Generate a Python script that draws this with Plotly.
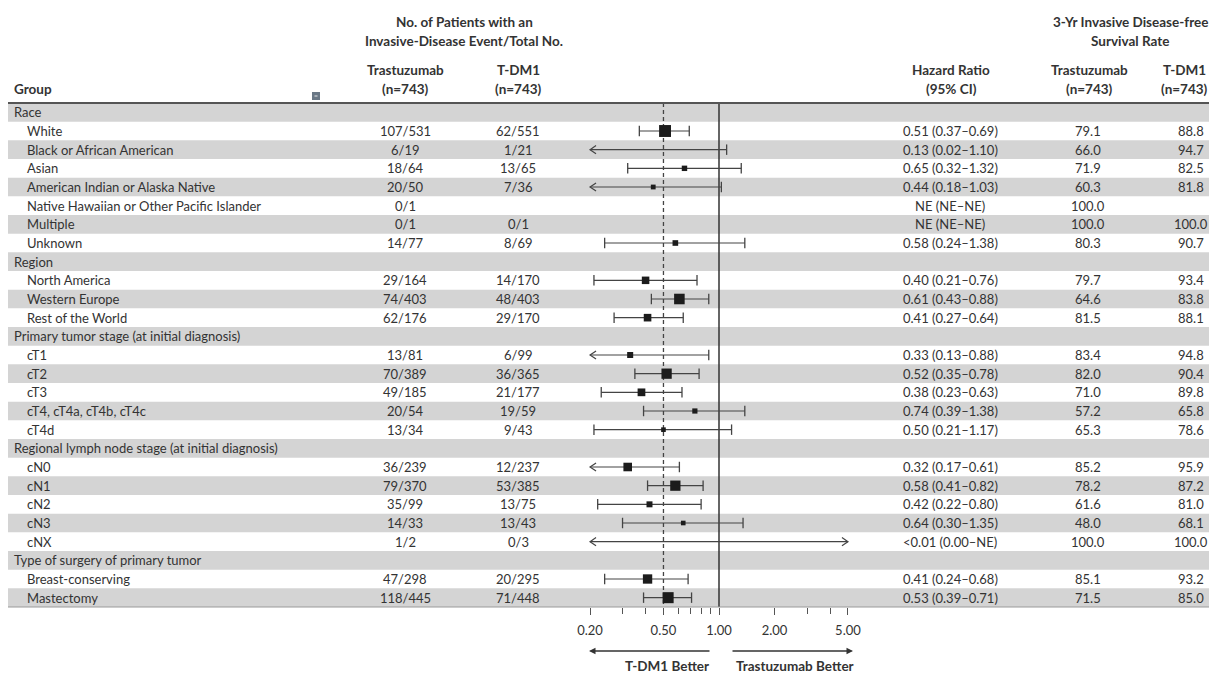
import math
import plotly.graph_objects as go

# ---------------- data ----------------
groups = ["Race", "White", "Black or African American", "Asian",
          "American Indian or Alaska Native", "Native Hawaiian or Other Pacific Islander",
          "Multiple", "Unknown",
          "Region", "North America", "Western Europe", "Rest of the World",
          "Primary tumor stage (at initial diagnosis)", "cT1", "cT2", "cT3",
          "cT4, cT4a, cT4b, cT4c", "cT4d",
          "Regional lymph node stage (at initial diagnosis)", "cN0", "cN1", "cN2", "cN3", "cNX",
          "Type of surgery of primary tumor", "Breast-conserving", "Mastectomy"]
is_header = [True, False, False, False, False, False, False, False,
             True, False, False, False,
             True, False, False, False, False, False,
             True, False, False, False, False, False,
             True, False, False]
trast_events = [None, 107, 6, 18, 20, 0, 0, 14, None, 29, 74, 62, None, 13, 70, 49, 20, 13,
                None, 36, 79, 35, 14, 1, None, 47, 118]
trast_total = [None, 531, 19, 64, 50, 1, 1, 77, None, 164, 403, 176, None, 81, 389, 185, 54, 34,
               None, 239, 370, 99, 33, 2, None, 298, 445]
tdm1_events = [None, 62, 1, 13, 7, None, 0, 8, None, 14, 48, 29, None, 6, 36, 21, 19, 9,
               None, 12, 53, 13, 13, 0, None, 20, 71]
tdm1_total = [None, 551, 21, 65, 36, None, 1, 69, None, 170, 403, 170, None, 99, 365, 177, 59, 43,
              None, 237, 385, 75, 43, 3, None, 295, 448]
hr = [None, 0.51, 0.13, 0.65, 0.44, None, None, 0.58, None, 0.40, 0.61, 0.41, None,
      0.33, 0.52, 0.38, 0.74, 0.50, None, 0.32, 0.58, 0.42, 0.64, 0.0, None, 0.41, 0.53]
ci_low = [None, 0.37, 0.02, 0.32, 0.18, None, None, 0.24, None, 0.21, 0.43, 0.27, None,
          0.13, 0.35, 0.23, 0.39, 0.21, None, 0.17, 0.41, 0.22, 0.30, 0.0, None, 0.24, 0.39]
ci_high = [None, 0.69, 1.10, 1.32, 1.03, None, None, 1.38, None, 0.76, 0.88, 0.64, None,
           0.88, 0.78, 0.63, 1.38, 1.17, None, 0.61, 0.82, 0.80, 1.35, math.inf, None, 0.68, 0.71]
rate_trast = [None, 79.1, 66.0, 71.9, 60.3, 100.0, 100.0, 80.3, None, 79.7, 64.6, 81.5, None,
              83.4, 82.0, 71.0, 57.2, 65.3, None, 85.2, 78.2, 61.6, 48.0, 100.0, None, 85.1, 71.5]
rate_tdm1 = [None, 88.8, 94.7, 82.5, 81.8, None, 100.0, 90.7, None, 93.4, 83.8, 88.1, None,
             94.8, 90.4, 89.8, 65.8, 78.6, None, 95.9, 87.2, 81.0, 68.1, 100.0, None, 93.2, 85.0]
overall_hr = 0.50
tick_values = [0.2, 0.5, 1.0, 2.0, 5.0]
tick_labels = ["0.20", "0.50", "1.00", "2.00", "5.00"]
minor_ticks = [0.3, 0.4, 0.6, 0.7, 0.8, 0.9, 3.0, 4.0]
clip_lo, clip_hi = 0.2, 5.0

# ---------------- layout geometry ----------------
OFF = 8                      # default page body margin
W, H = 1217 - OFF, 675 - OFF
FONT = "Lato"
TXT = "#333333"
TOP_PX, BOT_PX = 103, 607
n = len(groups)


def px(x):
    return (x - OFF) / W


def py(y):
    return 1 - (y - OFF) / H


PX_PER_DEC = 184.5
x_left = -(719 - 560) / PX_PER_DEC
x_right = x_left + (880 - 560) / PX_PER_DEC

fig = go.Figure()
shapes = []
annotations = []

# row bands
for i in range(n):
    if i % 2 == 0:
        shapes.append(dict(type="rect", xref="paper", yref="y", x0=px(8), x1=1,
                           y0=i - 0.5, y1=i + 0.5, fillcolor="#d4d4d4",
                           line=dict(width=0), layer="below"))
# top/bottom rules
shapes.append(dict(type="line", xref="paper", yref="paper", x0=px(8), x1=1,
                   y0=py(TOP_PX), y1=py(TOP_PX), line=dict(color="#555555", width=2)))
shapes.append(dict(type="line", xref="paper", yref="paper", x0=px(8), x1=1,
                   y0=py(BOT_PX), y1=py(BOT_PX), line=dict(color="#9a9a9a", width=1)))
# small collapse icon
shapes.append(dict(type="rect", xref="paper", yref="paper", x0=px(312), x1=px(320),
                   y0=py(100), y1=py(92), fillcolor="#6a7886", line=dict(width=0)))
shapes.append(dict(type="line", xref="paper", yref="paper", x0=px(314.5), x1=px(317.5),
                   y0=py(96), y1=py(96), line=dict(color="#e8e8e8", width=1)))

# reference lines
fig.add_trace(go.Scatter(x=[1.0, 1.0], y=[-0.5, n - 0.5], mode="lines",
                         line=dict(color="#333333", width=1.5), hoverinfo="skip"))
fig.add_trace(go.Scatter(x=[overall_hr, overall_hr], y=[-0.5, n - 0.5], mode="lines",
                         line=dict(color="#444444", width=1.3, dash="4px,3px"), hoverinfo="skip"))

# CI lines, caps, arrows
seg_x, seg_y, cap_x, cap_y, chev_x, chev_y = [], [], [], [], [], []
cap_h = 0.28
chev_d = 6 / PX_PER_DEC
chev_h = 0.22
for i in range(n):
    if hr[i] is None:
        continue
    lo, hi = ci_low[i], ci_high[i]
    a = max(lo, clip_lo)
    b = min(hi, clip_hi)
    seg_x += [a, b, None]
    seg_y += [i, i, None]
    if lo >= clip_lo:
        cap_x += [lo, lo, None]
        cap_y += [i - cap_h, i + cap_h, None]
    else:
        xo = clip_lo * 10 ** chev_d
        chev_x += [xo, clip_lo, xo, None]
        chev_y += [i - chev_h, i, i + chev_h, None]
    if hi <= clip_hi:
        cap_x += [hi, hi, None]
        cap_y += [i - cap_h, i + cap_h, None]
    else:
        xo = clip_hi / 10 ** chev_d
        chev_x += [xo, clip_hi, xo, None]
        chev_y += [i - chev_h, i, i + chev_h, None]

LC = "#444444"
fig.add_trace(go.Scatter(x=seg_x, y=seg_y, mode="lines", line=dict(color=LC, width=1.2),
                         hoverinfo="skip"))
fig.add_trace(go.Scatter(x=cap_x, y=cap_y, mode="lines", line=dict(color=LC, width=1.3),
                         hoverinfo="skip"))
fig.add_trace(go.Scatter(x=chev_x, y=chev_y, mode="lines", line=dict(color=LC, width=1.2),
                         hoverinfo="skip"))

# point estimates (size scaled by number of patients)
mx, my, ms = [], [], []
for i in range(n):
    if hr[i] is None or not (clip_lo <= hr[i] <= clip_hi):
        continue
    tot = (trast_total[i] or 0) + (tdm1_total[i] or 0)
    mx.append(hr[i])
    my.append(i)
    ms.append(2 + 10 * math.sqrt(tot / 1100))
fig.add_trace(go.Scatter(x=mx, y=my, mode="markers",
                         marker=dict(symbol="square", size=ms, color="#1c1c1c", opacity=1,
                                     line=dict(width=0)),
                         hoverinfo="skip"))


def hr_str(i):
    if hr[i] is None:
        return "NE (NE–NE)"
    h = "<0.01" if hr[i] < 0.01 else f"{hr[i]:.2f}"
    lo = f"{ci_low[i]:.2f}"
    hi = "NE" if math.isinf(ci_high[i]) else f"{ci_high[i]:.2f}"
    return f"{h} ({lo}–{hi})"


def txt(x, y, s, xanchor="center", bold=False, size=13, yref="y"):
    annotations.append(dict(x=x, y=y, xref="paper", yref=yref, text=(f"<b>{s}</b>" if bold else s),
                            showarrow=False, xanchor=xanchor, yanchor="middle",
                            font=dict(family=FONT, size=size, color=TXT)))


# row text
for i in range(n):
    txt(px(12 if is_header[i] else 25), i, groups[i], xanchor="left")
    if trast_total[i] is not None:
        txt(px(405), i, f"{trast_events[i]}/{trast_total[i]}")
    if tdm1_total[i] is not None:
        txt(px(518), i, f"{tdm1_events[i]}/{tdm1_total[i]}")
    if not is_header[i]:
        txt(px(950), i, hr_str(i).replace("<", "&lt;"))
    if rate_trast[i] is not None:
        txt(px(1088), i, f"{rate_trast[i]:.1f}")
    if rate_tdm1[i] is not None:
        txt(px(1191), i, f"{rate_tdm1[i]:.1f}")

# headers
HS = 13.5
txt(px(464), py(22), "No. of Patients with an", bold=True, size=HS, yref="paper")
txt(px(464), py(41), "Invasive-Disease Event/Total No.", bold=True, size=HS, yref="paper")
txt(px(1130), py(22), "3-Yr Invasive Disease-free", bold=True, size=HS, yref="paper")
txt(px(1130), py(41), "Survival Rate", bold=True, size=HS, yref="paper")
for xc, l1, l2 in [(405, "Trastuzumab", "(n=743)"), (518, "T-DM1", "(n=743)"),
                   (951, "Hazard Ratio", "(95% CI)"), (1089, "Trastuzumab", "(n=743)"),
                   (1184, "T-DM1", "(n=743)")]:
    txt(px(xc), py(70), l1, bold=True, size=HS, yref="paper")
    txt(px(xc), py(89), l2, bold=True, size=HS, yref="paper")
txt(px(12), py(89), "Group", xanchor="left", bold=True, size=HS, yref="paper")

# favour arrows
annotations.append(dict(x=px(589), y=py(651), ax=122, ay=0, xref="paper", yref="paper",
                        axref="pixel", ayref="pixel", showarrow=True, arrowhead=2, arrowsize=1,
                        arrowwidth=1.3, arrowcolor="#333333", text=""))
annotations.append(dict(x=px(853), y=py(651), ax=-122, ay=0, xref="paper", yref="paper",
                        axref="pixel", ayref="pixel", showarrow=True, arrowhead=2, arrowsize=1,
                        arrowwidth=1.3, arrowcolor="#333333", text=""))
txt(px(667), py(666), "T-DM1 Better", bold=True, size=HS, yref="paper")
txt(px(795), py(666), "Trastuzumab Better", bold=True, size=HS, yref="paper")

fig.update_layout(
    width=W, height=H, margin=dict(l=0, r=0, t=0, b=0),
    paper_bgcolor="white", plot_bgcolor="rgba(0,0,0,0)",
    showlegend=False, shapes=shapes, annotations=annotations,
    xaxis=dict(type="log", domain=[px(560), px(880)], range=[x_left, x_right],
               showgrid=False, zeroline=False, showline=False,
               tickvals=tick_values, ticktext=tick_labels, ticks="outside", ticklen=7,
               tickwidth=1, tickcolor="#555555", ticklabelstandoff=4,
               tickfont=dict(family=FONT, size=13, color=TXT),
               minor=dict(tickvals=minor_ticks, ticks="outside", ticklen=6, tickwidth=1,
                          tickcolor="#555555", showgrid=False),
               fixedrange=True),
    yaxis=dict(domain=[py(BOT_PX), py(TOP_PX)], range=[n - 0.5, -0.5], visible=False,
               fixedrange=True),
)

fig.write_html("out.html")
